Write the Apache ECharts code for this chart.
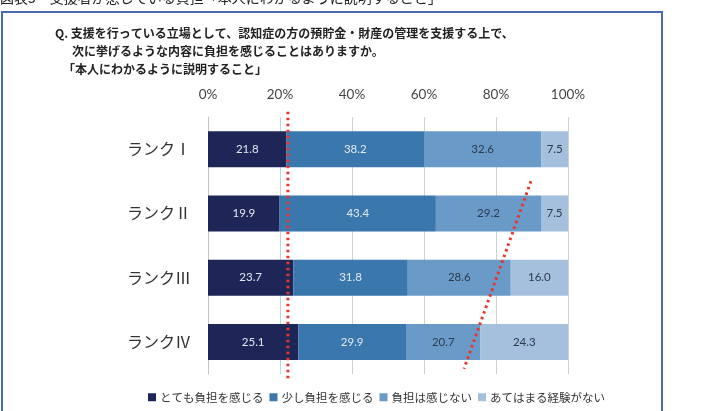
<!DOCTYPE html>
<html>
<head>
<meta charset="utf-8">
<script src="https://cdn.jsdelivr.net/npm/echarts@6/dist/echarts.min.js"></script>
<style>
  html, body { margin: 0; padding: 0; background: #fff; }
  #chart { width: 705px; height: 411px; }
</style>
</head>
<body>
<div id="chart"></div>
<script>
const ranks = ['ランクⅠ', 'ランクⅡ', 'ランクⅢ', 'ランクⅣ']
const seriesNames = ['とても負担を感じる', '少し負担を感じる', '負担は感じない', 'あてはまる経験がない']
const veryHeavy = [21.8, 19.9, 23.7, 25.1]
const littleHeavy = [38.2, 43.4, 31.8, 29.9]
const notHeavy = [32.6, 29.2, 28.6, 20.7]
const noExperience = [7.5, 7.5, 16.0, 24.3]
const colors = ['#1e2657', '#3a77ad', '#6a9bc8', '#a4c0dc']
const labelColors = ['#e4e9f2', '#e4e9f2', '#2b3a4d', '#2b3a4d']

// red dotted guide lines: [x%, category position (fractional index)]
const guideVertical = [[22.2, -0.58], [22.2, 3.6]]
const guideSlant = [[89.7, 0.5], [71.1, 3.42]]

const jp = '"Noto Sans CJK JP", sans-serif'
const num = 'Lato, "Noto Sans", sans-serif'

const values = [veryHeavy, littleHeavy, notHeavy, noExperience]

const chart = echarts.init(document.getElementById('chart'))

const option = {
  animation: false,
  color: colors,
  grid: { left: 208, right: 137, top: 117, bottom: 37 },
  legend: {
    bottom: 3,
    left: 143,
    itemWidth: 8,
    itemHeight: 8,
    itemGap: 6,
    icon: 'rect',
    textStyle: { fontFamily: jp, fontSize: 11.5, color: '#333', padding: [0, 0, 0, -1] },
    data: seriesNames
  },
  xAxis: {
    type: 'value',
    position: 'top',
    min: 0,
    max: 100,
    interval: 20,
    axisLine: { show: false },
    axisTick: { show: false },
    axisLabel: {
      formatter: '{value}%',
      fontFamily: num,
      fontSize: 13.5,
      color: '#444',
      margin: 15
    },
    splitLine: { lineStyle: { color: '#cfcfcf', width: 1 } }
  },
  yAxis: {
    type: 'category',
    inverse: true,
    data: ranks,
    axisLine: { lineStyle: { color: '#c4c4c4' } },
    axisTick: { length: 5, lineStyle: { color: '#c4c4c4' } },
    axisLabel: { fontFamily: jp, fontSize: 16, color: '#333', margin: 17 }
  },
  series: seriesNames.map((name, i) => ({
    name: name,
    type: 'bar',
    stack: 'total',
    barWidth: 36,
    data: values[i],
    itemStyle: { color: colors[i] },
    label: {
      show: true,
      position: 'inside',
      formatter: p => p.value.toFixed(1),
      fontFamily: num,
      fontSize: 11.5,
      color: labelColors[i]
    }
  }))
}

chart.setOption(option)

// category axis snaps to whole indices, so interpolate between band centres
function toPx(pts) {
  const c0 = chart.convertToPixel({ gridIndex: 0 }, [0, 0])
  const c1 = chart.convertToPixel({ gridIndex: 0 }, [0, 1])
  const band = c1[1] - c0[1]
  return pts.map(p => {
    const x = chart.convertToPixel({ gridIndex: 0 }, [p[0], 0])[0]
    return [x, c0[1] + band * p[1]]
  })
}

function dotted(pts) {
  const px = toPx(pts)
  return {
    type: 'line',
    z: 100,
    shape: { x1: px[0][0], y1: px[0][1], x2: px[1][0], y2: px[1][1] },
    style: { stroke: '#e8352b', lineWidth: 3, lineDash: [2.5, 3.5] }
  }
}

chart.setOption({
  graphic: [
    {
      type: 'rect',
      shape: { x: 2, y: 12, width: 660, height: 420 },
      style: { fill: 'none', stroke: '#4a6cae', lineWidth: 2 }
    },
    {
      type: 'text',
      left: 0,
      top: -9,
      style: { text: '図表5　支援者が感じている負担「本人にわかるように説明すること」', fontFamily: jp, fontSize: 14, fill: '#222' }
    },
    {
      type: 'text',
      left: 55,
      top: 27,
      style: { text: 'Q. 支援を行っている立場として、認知症の方の預貯金・財産の管理を支援する上で、', fontFamily: jp, fontSize: 12, fontWeight: 'bold', fill: '#222' }
    },
    {
      type: 'text',
      left: 72,
      top: 45,
      style: { text: '次に挙げるような内容に負担を感じることはありますか。', fontFamily: jp, fontSize: 12, fontWeight: 'bold', fill: '#222' }
    },
    {
      type: 'text',
      left: 63,
      top: 63,
      style: { text: '「本人にわかるように説明すること」', fontFamily: jp, fontSize: 12, fontWeight: 'bold', fill: '#222' }
    },
    dotted(guideVertical),
    dotted(guideSlant)
  ]
})
</script>
</body>
</html>
